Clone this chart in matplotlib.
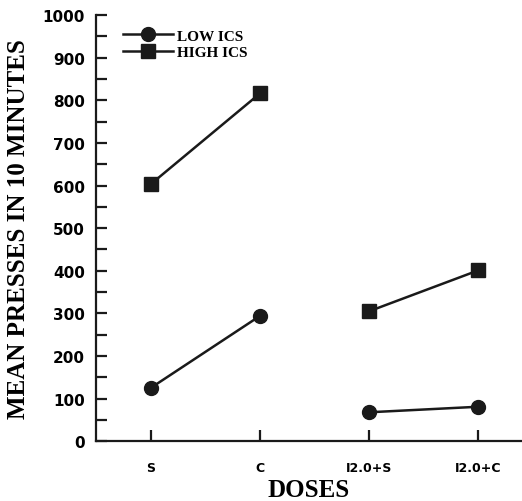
import matplotlib
matplotlib.use("Agg")
import matplotlib.pyplot as plt
import numpy as np
from matplotlib.ticker import MultipleLocator

categories = ["S", "C", "I2.0+S", "I2.0+C"]
low_ics = [125, 294, 68, 81]
high_ics = [603, 816, 305, 401]
y_ticks = [0, 100, 200, 300, 400, 500, 600, 700, 800, 900, 1000]

fig = plt.figure(figsize=(5.22, 5.02), dpi=100)
ax = fig.add_axes([0.184, 0.119, 0.816, 0.849])

x = np.arange(1, len(categories) + 1)
groups = [(0, 2), (2, 4)]
for i, (a, b) in enumerate(groups):
    ax.plot(x[a:b], low_ics[a:b], color="#1a1a1a", lw=1.8, marker="o", ms=10,
            label="LOW ICS" if i == 0 else None)
for i, (a, b) in enumerate(groups):
    ax.plot(x[a:b], high_ics[a:b], color="#1a1a1a", lw=1.8, marker="s", ms=9.5,
            label="HIGH ICS" if i == 0 else None)

ax.set_xlim(0.5, 4.4)
ax.set_ylim(0, 1000)
ax.set_xticks(x)
ax.set_xticklabels(categories, fontsize=9, fontweight="bold", family="DejaVu Sans")
ax.set_yticks(y_ticks)
ax.set_yticklabels([str(v) for v in y_ticks], fontsize=11, fontweight="bold", family="DejaVu Sans")
ax.yaxis.set_minor_locator(MultipleLocator(50))
ax.tick_params(axis="both", which="both", direction="in", width=1.6, color="#1a1a1a")
ax.tick_params(axis="y", which="both", length=8, pad=8)
ax.tick_params(axis="x", length=8, pad=14)

for s in ["top", "right"]:
    ax.spines[s].set_visible(False)
for s in ["left", "bottom"]:
    ax.spines[s].set_linewidth(1.6)
    ax.spines[s].set_color("#1a1a1a")

ax.set_ylabel("MEAN PRESSES IN 10 MINUTES", fontsize=18, fontweight="bold",
              family="Liberation Serif", labelpad=9)
ax.set_xlabel("DOSES", fontsize=18, fontweight="bold", family="Liberation Serif", labelpad=3)

leg = ax.legend(loc="upper left", bbox_to_anchor=(0.03, 1.0), frameon=False,
                handlelength=3.3, handletextpad=0.25, labelspacing=0.2,
                prop={"family": "Liberation Serif", "weight": "bold", "size": 11})

fig.savefig("out.png", dpi=100)
